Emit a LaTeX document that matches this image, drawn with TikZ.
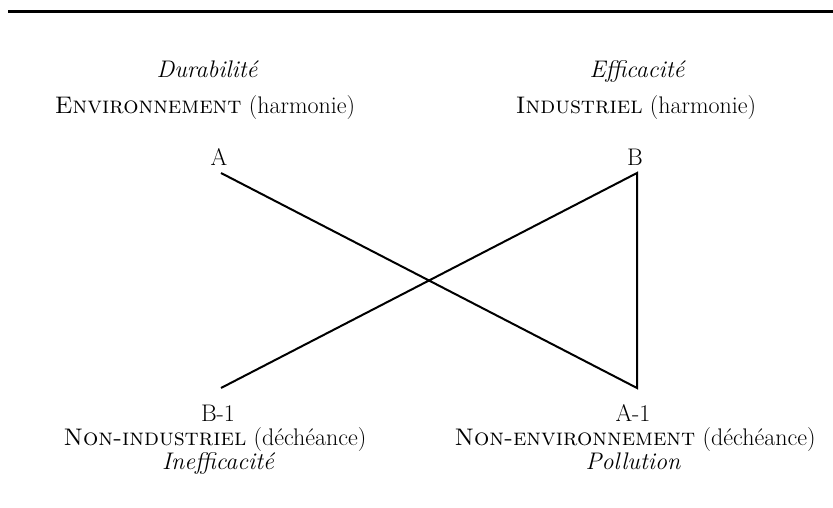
\documentclass[tikz,border=0pt]{standalone}
\usepackage{fontspec}
\tikzset{
  lbl/.style={inner sep=0pt, anchor=base, font=\fontsize{24}{28}\selectfont},
  ital/.style={lbl, font=\fontsize{24}{28}\selectfont\itshape},
  trait/.style={line width=2pt, line join=miter}
}
\begin{document}
\begin{tikzpicture}[x=1pt,y=-1pt]
\useasboundingbox (0,0) rectangle (833,508);

% filet du haut
\draw[line width=3pt] (8,11.5) -- (833,11.5);

% sommets
\coordinate (a) at (221,173);
\coordinate (b) at (637,173);
\coordinate (b1) at (221,388);
\coordinate (a1) at (637,388);

% en haut
\node[ital] (durab) at (207,78) {Durabilité};
\node[lbl] (envir) at (205,114) {\textsc{Environnement} (harmonie)};
\node[lbl] (la) at (219,165) {A};
\node[ital] (effic) at (637,78) {Efficacité};
\node[lbl] (indus) at (636,114) {\textsc{Industriel} (harmonie)};
\node[lbl] (lb) at (635,165) {B};

% en bas
\node[lbl] (lb1) at (218,421) {B-1};
\node[lbl] (nindus) at (215,445) {\textsc{Non-industriel} (déchéance)};
\node[ital] (ineff) at (218,469) {Inefficacité};
\node[lbl] (la1) at (633,421) {A-1};
\node[lbl] (nenvir) at (635,445) {\textsc{Non-environnement} (déchéance)};
\node[ital] (pollu) at (633,469) {Pollution};

% liaisons
\draw[trait] (a) -- (a1) -- (b) -- (b1);

\end{tikzpicture}
\end{document}
